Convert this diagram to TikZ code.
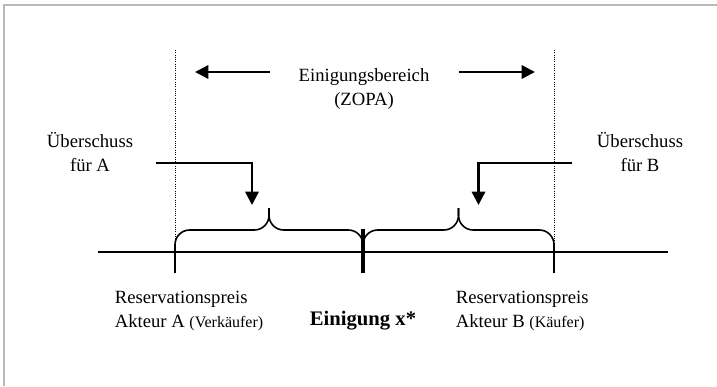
\documentclass[tikz,border=0pt]{standalone}
\usepackage{fontspec}
\setmainfont{Liberation Serif}
\usetikzlibrary{positioning}
\usetikzlibrary{calc}
\usetikzlibrary{arrows.meta}

\begin{document}
\begin{tikzpicture}[x=0.75pt,y=-0.75pt,line width=1.2pt,
  >={Triangle[length=10pt,width=10pt]},
  txt/.style={inner sep=0pt,align=center,font=\fontsize{14}{17.5}\selectfont},
  pfeil/.style={->,line width=1.7pt},
  grenze/.style={densely dotted,line width=0.7pt},
  klammer/.style={rounded corners=11pt}]
  \useasboundingbox (0,0) rectangle (717,386);
  \draw[gray!55,line width=1.5pt] (4,386)--(4,5)--(717,5);
  % Achse und Marken
  \coordinate (axL) at (98,252);
  \coordinate (axR) at (668,252);
  \coordinate (lo) at (175,252);
  \coordinate (mid) at (363,252);
  \coordinate (hi) at (554,252);
  \coordinate (midU) at ($(mid)+(0,21)$);
  \coordinate (dotA) at (175,50);
  \coordinate (dotB) at (554,50);
  \coordinate (tipA) at ($(lo)!.5!(mid)+(0,-44)$);
  \coordinate (tipB) at ($(mid)!.5!(hi)+(0,-44)$);
  \draw (axL)--(axR);
  \draw (lo)--++(0,21);
  \draw (hi)--++(0,21);
  \draw[line width=2.6pt] ($(mid)+(0,-23)$)--(midU);
  \draw[grenze] (dotA)--(lo);
  \draw[grenze] (dotB)--(hi);
  % Klammern
  \draw[klammer] (lo)--++(0,-22)-|(tipA);
  \draw[klammer] (mid)--++(0,-22)-|(tipA);
  \draw[klammer] (mid)--++(0,-22)-|(tipB);
  \draw[klammer] (hi)--++(0,-22)-|(tipB);
  % Texte
  \node[txt](zopa) at (364,89) {Einigungsbereich\\(ZOPA)};
  \node[txt](ueberA) at (90,152) {Überschuss\\für A};
  \node[txt](ueberB) at (640,152) {Überschuss\\für B};
  \node[txt,align=left,anchor=west](resA) at (114,311) {Reservationspreis\\Akteur A {\fontsize{12}{13}\selectfont(Verkäufer)}};
  \node[txt,align=left,anchor=west](resB) at (455,311) {Reservationspreis\\Akteur B {\fontsize{12}{13}\selectfont(Käufer)}};
  \node[txt,font=\fontsize{15.5}{18}\selectfont\bfseries,below=28pt of midU](einig) {Einigung x*};
  % Pfeile
  \draw[pfeil] ($(zopa.west)+(-28,-17)$)--($(dotA)+(20,22)$);
  \draw[pfeil] ($(zopa.east)+(29,-17)$)--($(dotB)+(-19,22)$);
  \draw[pfeil] ($(ueberA.east)+(22,11)$)-|($(tipA)+(-17,-3)$);
  \draw[pfeil] ($(ueberB.west)+(-24,11)$)-|($(tipB)+(20,-3)$);
\end{tikzpicture}
\end{document}
